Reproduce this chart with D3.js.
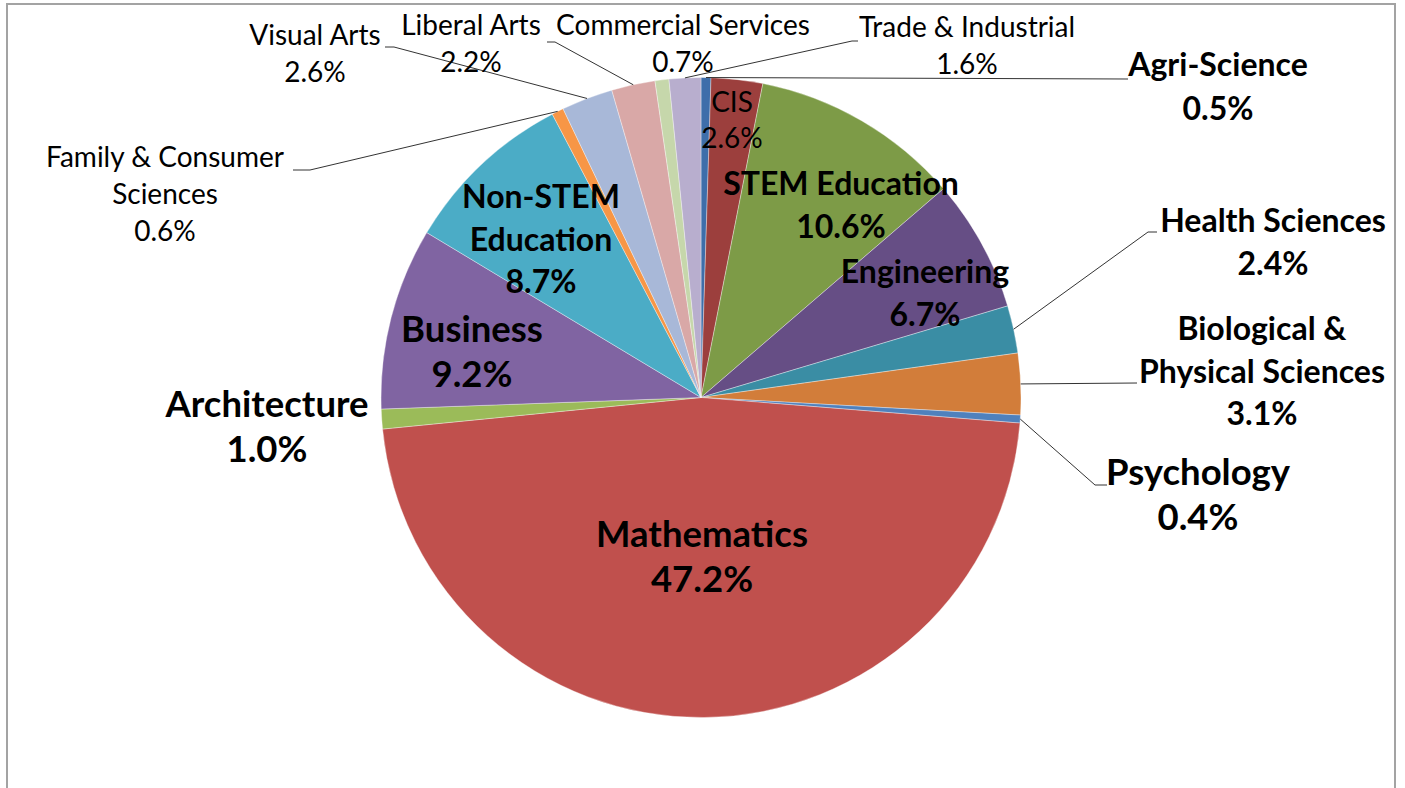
<!DOCTYPE html>
<html>
<head>
<meta charset="utf-8">
<script src="https://cdn.jsdelivr.net/npm/d3@7/dist/d3.min.js"></script>
<style>
    body { margin: 0; background: #fff; }
    text { font-family: Lato, "Noto Sans", sans-serif; fill: #000; }
</style>
</head>
<body>
<svg id="CHART" width="1405" height="788"></svg>
<script>
    // slices clockwise from 12 o'clock
    var categories = ["Agri-Science", "CIS", "STEM Education", "Engineering", "Health Sciences",
        "Biological & Physical Sciences", "Psychology", "Mathematics", "Architecture", "Business",
        "Non-STEM Education", "Family & Consumer Sciences", "Visual Arts", "Liberal Arts",
        "Commercial Services", "Trade & Industrial"];
    var shares = [0.5, 2.6, 10.6, 6.7, 2.4, 3.1, 0.4, 47.2, 1.0, 9.2, 8.7, 0.6, 2.6, 2.2, 0.7, 1.6];
    var sliceColors = ["#3E6EAA", "#9C3F3D", "#7D9B47", "#664E85", "#3A8DA4", "#D27D3A",
        "#4F81BD", "#C0504D", "#9BBB59", "#8064A2", "#4BACC6", "#F79646",
        "#A8B8D8", "#D9A8A7", "#C6D7AB", "#B8AECE"];

    // how the category names wrap in the labels
    var wrapped = {
        "Biological & Physical Sciences": ["Biological &", "Physical Sciences"],
        "Non-STEM Education": ["Non-STEM", "Education"],
        "Family & Consumer Sciences": ["Family & Consumer", "Sciences"]
    };

    var W = 1405, H = 788;
    var CX = 701, CY = 397.5, R = 320;

    var FONT = {
        L: { size: 36.5, weight: "bold", lh: 45 },
        M: { size: 32, weight: "bold", lh: 42.5 },
        S: { size: 28, weight: "normal", lh: 37 }
    };

    // label placement: x centre, first baseline, size, leader points (label side first)
    var LAYOUT = {
        "Agri-Science": { x: 1218, y: 76, s: "L", size: 32, lh: 44, lead: [[1128, 79]] },
        "CIS": { x: 732, y: 112, s: "S", lh: 36 },
        "STEM Education": { x: 841, y: 195, s: "M" },
        "Engineering": { x: 925, y: 283, s: "M" },
        "Health Sciences": { x: 1273, y: 232, s: "M", lead: [[1157, 232], [1148, 232]] },
        "Biological & Physical Sciences": { x: 1262, y: 340, s: "M", lead: [[1137, 383]] },
        "Psychology": { x: 1198, y: 485, s: "L", lead: [[1107, 485], [1095, 485]] },
        "Mathematics": { x: 702, y: 547, s: "L" },
        "Architecture": { x: 267, y: 417, s: "L" },
        "Business": { x: 472, y: 342, s: "L" },
        "Non-STEM Education": { x: 541, y: 208, s: "M" },
        "Family & Consumer Sciences": { x: 165, y: 167, s: "S", lead: [[293, 170], [310, 170]] },
        "Visual Arts": { x: 315, y: 45, s: "S", lead: [[385, 47], [394, 47]] },
        "Liberal Arts": { x: 471, y: 35, s: "S", lead: [[547, 42], [555, 42]] },
        "Commercial Services": { x: 683, y: 35, s: "S" },
        "Trade & Industrial": { x: 967, y: 37, s: "S", lead: [[858, 41], [852, 41]] }
    };

    var svg = d3.select("#CHART");

    // chart frame
    svg.append("rect")
        .attr("x", 7).attr("y", 4)
        .attr("width", 1388).attr("height", 820)
        .attr("fill", "#fff")
        .attr("stroke", "#a3a3a3")
        .attr("stroke-width", 2);

    var pie = d3.pie().sort(null).value(function (d) { return d; });
    var arcs = pie(shares);
    var arc = d3.arc().innerRadius(0).outerRadius(R);

    var color = d3.scaleOrdinal().domain(categories).range(sliceColors);

    var G = svg.append("g").attr("transform", "translate(" + CX + "," + CY + ")");

    G.selectAll("path.SLICE")
        .data(arcs)
        .enter().append("path")
        .attr("class", "SLICE")
        .attr("d", arc)
        .attr("fill", function (d, i) { return color(categories[i]); })
        .attr("stroke", "#fff")
        .attr("stroke-opacity", 0.5)
        .attr("stroke-width", 0.7);

    // leader lines: from the label to the slice edge at mid angle
    var line = d3.line();
    arcs.forEach(function (d, i) {
        var L = LAYOUT[categories[i]];
        if (!L.lead) return;
        var mid = (d.startAngle + d.endAngle) / 2;
        var edge = [CX + R * Math.sin(mid), CY - R * Math.cos(mid)];
        svg.append("path")
            .attr("d", line(L.lead.concat([edge])))
            .attr("fill", "none")
            .attr("stroke", "#333")
            .attr("stroke-width", 1);
    });

    var pct = d3.format(".1f");

    categories.forEach(function (name, i) {
        var L = LAYOUT[name];
        var f = FONT[L.s];
        var lines = (wrapped[name] || [name]).concat([pct(shares[i]) + "%"]);
        var t = svg.append("text")
            .attr("text-anchor", "middle")
            .style("font-size", (L.size || f.size) + "px")
            .style("font-weight", f.weight);
        lines.forEach(function (s, k) {
            t.append("tspan")
                .attr("x", L.x)
                .attr("y", L.y + k * (L.lh || f.lh))
                .text(s);
        });
    });
</script>
</body>
</html>
